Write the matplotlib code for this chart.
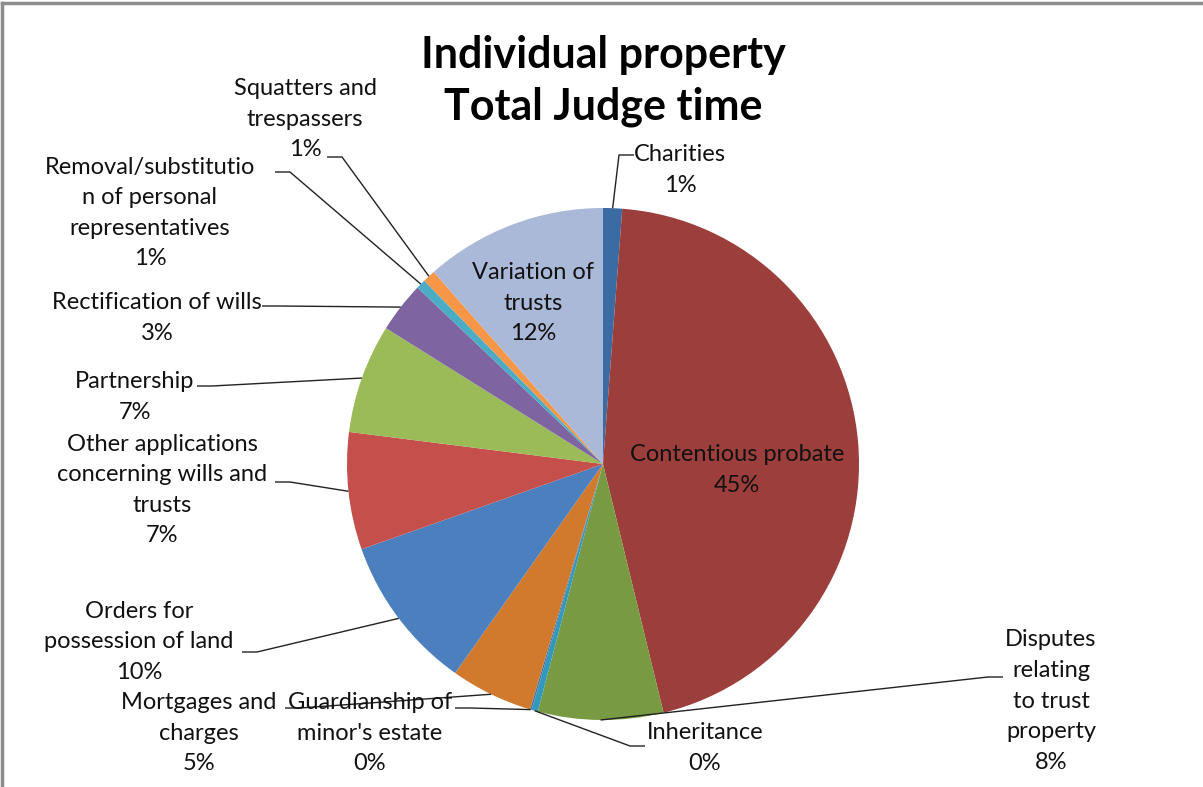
import numpy as np
import matplotlib
matplotlib.use("Agg")
import matplotlib.pyplot as plt
from matplotlib.lines import Line2D

# data (share of total judge time, %)
categories = [
    "Charities",
    "Contentious probate",
    "Disputes\nrelating\nto trust\nproperty",
    "Inheritance",
    "Guardianship of\nminor's estate",
    "Mortgages and\ncharges",
    "Orders for\npossession of land",
    "Other applications\nconcerning wills and\ntrusts",
    "Partnership",
    "Rectification of wills",
    "Removal/substitutio\nn of personal\nrepresentatives",
    "Squatters and\ntrespassers",
    "Variation of\ntrusts",
]
values = [1.2, 45.0, 7.9, 0.4, 0.1, 5.2, 9.8, 7.4, 6.9, 3.2, 0.6, 0.8, 11.5]
colors = ["#3A6BA2", "#9C3E3B", "#789A42", "#3399BC", "#4672A8", "#D17A2E",
          "#4B7FBE", "#C5504B", "#9BBB59", "#7F64A2", "#4BACC6", "#F79646",
          "#AAB9D8"]

W, H = 1203, 787
fig = plt.figure(figsize=(W / 100, H / 100), dpi=100)
ax = fig.add_axes([0, 0, 1, 1])

# pie geometry in pixel units (y measured from bottom)
cx, cy, rad = 603, H - 464, 256
wedges, _ = ax.pie(values, colors=colors, startangle=90, counterclock=False,
                   center=(cx, cy), radius=rad,
                   wedgeprops=dict(linewidth=0))
ax.set_xlim(0, W)
ax.set_ylim(0, H)
ax.set_aspect("equal")
ax.axis("off")

font = "Lato"
fs = 17

# label layout: text centre (px from top), leader anchor (px from top) or None
layout = [
    ((680, 170), (634, 155), -1),
    ((737, 470), None, 0),
    ((1051, 701), (1003, 677), -1),
    ((705, 748), (645, 746), -1),
    ((370, 733), (455, 708), 1),
    ((199, 733), (285, 708), 1),
    ((139, 642), (242, 652), 1),
    ((162, 490), (275, 482), 1),
    ((135, 397), (197, 386), 1),
    ((157, 318), (262, 306), 1),
    ((150, 213), (275, 172), 1),
    ((305, 119), (327, 157), 1),
    ((533, 303), None, 0),
]

for w, name, v, (tpos, anchor, side) in zip(wedges, categories, values, layout):
    pct = f"{round(v)}%"
    ax.text(tpos[0], H - tpos[1], f"{name}\n{pct}", ha="center", va="center",
            multialignment="center", fontsize=fs, family=font,
            color="#111111", linespacing=1.56)
    if anchor is None:
        continue
    mid = np.deg2rad((w.theta1 + w.theta2) / 2)
    ex, ey = cx + rad * np.cos(mid), cy + rad * np.sin(mid)
    ax0, ay0 = anchor[0], H - anchor[1]
    xs = [ax0, ax0 + side * 15, ex]
    ys = [ay0, ay0, ey]
    ax.plot(xs, ys, color="#222222", lw=1.0, solid_capstyle="butt")

fig.text(603 / W, 1 - 81 / H, "Individual property\nTotal Judge time",
         ha="center", va="center", fontsize=31, fontweight="bold",
         family=font, linespacing=1.32)

# chart frame (top and left edges visible)
fig.add_artist(Line2D([2 / W, 1], [1 - 3 / H, 1 - 3 / H], color="#8c8c8c", lw=2.5))
fig.add_artist(Line2D([2 / W, 2 / W], [0, 1 - 3 / H], color="#8c8c8c", lw=2.5))

fig.savefig("out.png", dpi=100, facecolor="white")
